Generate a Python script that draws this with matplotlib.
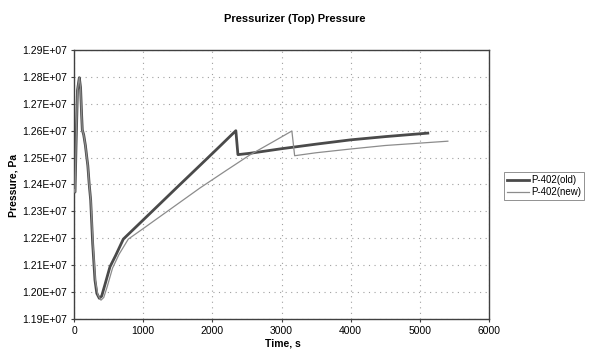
import matplotlib
matplotlib.use("Agg")
import matplotlib.pyplot as plt
from matplotlib.ticker import FuncFormatter, MultipleLocator

plt.rcParams['font.family'] = ['Liberation Sans', 'DejaVu Sans']

title = "Pressurizer (Top) Pressure"
xlabel = "Time, s"
ylabel = "Pressure, Pa"
series_names = ["P-402(old)", "P-402(new)"]

old_t = [0, 5, 15, 30, 50, 77, 95, 110, 120, 140, 165, 183, 200, 220, 241, 270, 303, 330, 366,
         400, 450, 520, 600, 713, 1000, 1500, 1821, 2100, 2340, 2370, 2543, 3000, 3500, 4000,
         4500, 5115]
old_p = [1.2380, 1.2372, 1.2372, 1.2550, 1.2750, 1.2797, 1.2760, 1.2660, 1.2603, 1.2585, 1.2545,
         1.2505, 1.2470, 1.2400, 1.2342, 1.2180, 1.2045, 1.1995, 1.1977, 1.1985, 1.2030, 1.2094,
         1.2135, 1.2197, 1.2268, 1.2392, 1.2471, 1.2540, 1.2600, 1.2511, 1.2516, 1.2533, 1.2550,
         1.2566, 1.2578, 1.2591]

new_t = [0, 5, 15, 30, 50, 77, 95, 110, 120, 140, 165, 183, 200, 220, 245, 275, 310, 345, 390,
         430, 480, 557, 650, 785, 1000, 1821, 2200, 2543, 2900, 3150, 3190, 3500, 4000,
         4500, 5405]
new_p = [1.2380, 1.2372, 1.2372, 1.2550, 1.2750, 1.2797, 1.2760, 1.2660, 1.2603, 1.2585, 1.2545,
         1.2505, 1.2470, 1.2400, 1.2335, 1.2175, 1.2040, 1.1990, 1.1970, 1.1980, 1.2020, 1.2089,
         1.2140, 1.2197, 1.2236, 1.2387, 1.2452, 1.2510, 1.2562, 1.2599, 1.2507, 1.2518,
         1.2532, 1.2545, 1.2561]

old_p = [v * 1e7 for v in old_p]
new_p = [v * 1e7 for v in new_p]

fig = plt.figure(figsize=(5.89, 3.56), dpi=100)
ax = fig.add_axes([74/589, 1 - 319/356, (489-74)/589, (319-50)/356])

ax.plot(old_t, old_p, color="#4a4a4a", lw=2.0, label=series_names[0], zorder=3)
ax.plot(new_t, new_p, color="#8c8c8c", lw=0.9, label=series_names[1], zorder=4)

ax.set_xlim(0, 6000)
ax.set_ylim(1.19e7, 1.29e7)
ax.xaxis.set_major_locator(MultipleLocator(1000))
ax.yaxis.set_major_locator(MultipleLocator(1e5))
ax.yaxis.set_major_formatter(FuncFormatter(lambda v, p: "%.2fE+07" % (v / 1e7)))

ax.grid(True, which="major", color="#a0a0a0", linestyle=(0, (1, 4)), lw=0.8)
for s in ax.spines.values():
    s.set_color("#404040")
    s.set_linewidth(1.0)
ax.tick_params(axis="both", labelsize=7.5, length=2, color="#404040", pad=3)

fig.text(295/589, 1 - 19/356, title, ha="center", va="center", fontsize=8, fontweight="bold")
fig.text(283/589, 1 - 343/356, xlabel, ha="center", va="center", fontsize=7.5, fontweight="bold")
fig.text(14/589, 1 - 185/356, ylabel, ha="center", va="center", rotation=90, fontsize=7.5,
         fontweight="bold")

leg = fig.legend(loc="upper left", bbox_to_anchor=(504/589, 1 - 172/356), fontsize=7,
                 frameon=True, fancybox=False, edgecolor="#808080", framealpha=1,
                 handlelength=2.3, handletextpad=0.2, borderpad=0.3, labelspacing=0.25,
                 borderaxespad=0)
leg.get_frame().set_linewidth(0.6)

fig.savefig("out.png", dpi=100)
